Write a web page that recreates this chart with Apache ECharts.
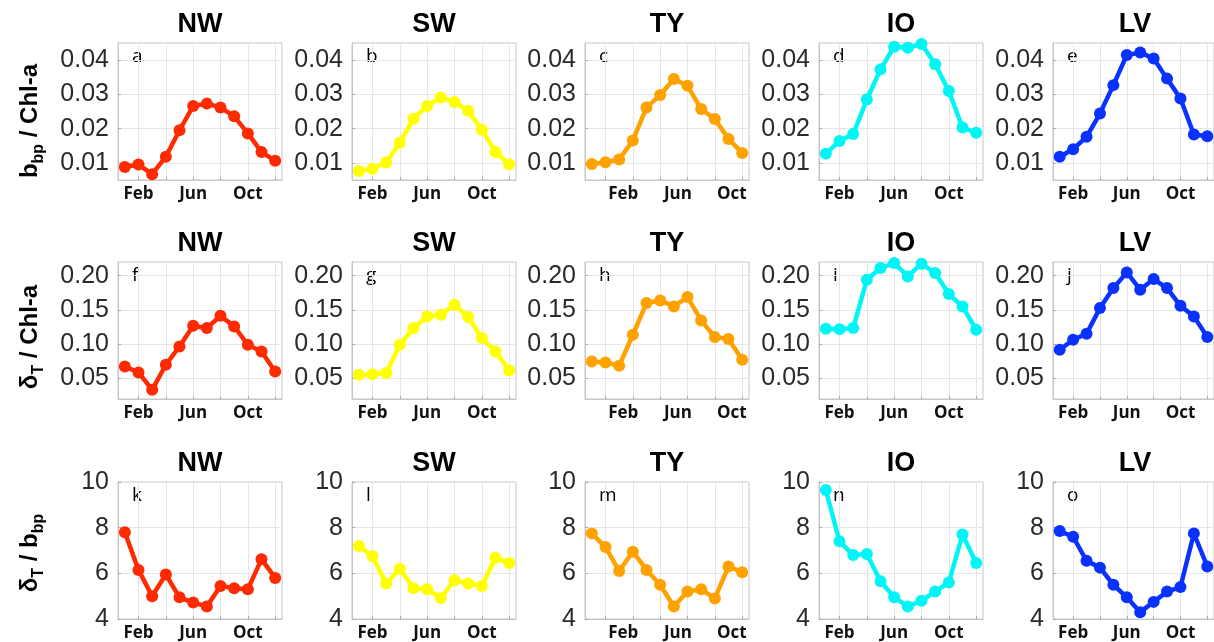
<!DOCTYPE html>
<html>
<head>
<meta charset="utf-8">
<script src="https://cdn.jsdelivr.net/npm/echarts@6/dist/echarts.min.js"></script>
<style>
  html, body { margin: 0; padding: 0; background: #fff; }
  #chart { width: 1214px; height: 642px; }
</style>
</head>
<body>
<div id="chart"></div>
<script>
// Months of the year (x values) and region names
const months = [1, 2, 3, 4, 5, 6, 7, 8, 9, 10, 11, 12];
const regions = ['NW', 'SW', 'TY', 'IO', 'LV'];
const regionColors = ['#ff2a00', '#ffff00', '#ffa200', '#00f5f5', '#0a32ff'];
const panelLetters = ['a', 'b', 'c', 'd', 'e', 'f', 'g', 'h', 'i', 'j', 'k', 'l', 'm', 'n', 'o'];

// x tick labels
const tickNames = ['Feb', 'Jun', 'Oct'];
const tickMonths = [2, 6, 10];
const tickMonthsTY = [3.3, 7.3, 11.25];
const gridMonths = [2, 4, 6, 8, 10, 12];

// y tick labels per row
const ticksRow1 = [0.01, 0.02, 0.03, 0.04];
const ticksRow2 = [0.05, 0.10, 0.15, 0.20];
const ticksRow3 = [4, 6, 8, 10];

// Row 1: b_bp / Chl-a
const bbpChlNW = [0.0088, 0.0095, 0.0067, 0.0118, 0.0195, 0.0266, 0.0273, 0.0262, 0.0236, 0.0186, 0.0132, 0.0106];
const bbpChlSW = [0.0076, 0.0083, 0.0101, 0.0159, 0.0229, 0.0266, 0.0291, 0.0278, 0.0252, 0.0197, 0.0132, 0.0096];
const bbpChlTY = [0.0097, 0.0102, 0.0110, 0.0165, 0.0262, 0.0298, 0.0345, 0.0325, 0.0257, 0.0228, 0.0170, 0.0129];
const bbpChlIO = [0.0127, 0.0164, 0.0184, 0.0285, 0.0373, 0.0439, 0.0436, 0.0447, 0.0388, 0.0310, 0.0203, 0.0188];
const bbpChlLV = [0.0118, 0.0140, 0.0176, 0.0244, 0.0327, 0.0415, 0.0422, 0.0405, 0.0346, 0.0288, 0.0183, 0.0178];

// Row 2: delta_T / Chl-a
const dtChlNW = [0.0675, 0.0588, 0.0334, 0.0700, 0.0967, 0.1270, 0.1235, 0.1415, 0.1260, 0.0992, 0.0894, 0.0602];
const dtChlSW = [0.0554, 0.0563, 0.0578, 0.0992, 0.1235, 0.1406, 0.1430, 0.1576, 0.1396, 0.1089, 0.0894, 0.0617];
const dtChlTY = [0.0748, 0.0734, 0.0685, 0.1138, 0.1600, 0.1639, 0.1552, 0.1688, 0.1347, 0.1104, 0.1075, 0.0773];
const dtChlIO = [0.1225, 0.1220, 0.1235, 0.1941, 0.2112, 0.2185, 0.1990, 0.2175, 0.2039, 0.1732, 0.1552, 0.1211];
const dtChlLV = [0.0919, 0.1065, 0.1152, 0.1527, 0.1819, 0.2048, 0.1795, 0.1951, 0.1819, 0.1561, 0.1406, 0.1104];

// Row 3: delta_T / b_bp
const dtBbpNW = [7.80, 6.15, 5.00, 5.95, 4.95, 4.72, 4.55, 5.45, 5.35, 5.30, 6.62, 5.80];
const dtBbpSW = [7.20, 6.75, 5.55, 6.20, 5.35, 5.30, 4.92, 5.70, 5.55, 5.45, 6.68, 6.45];
const dtBbpTY = [7.75, 7.15, 6.10, 6.95, 6.15, 5.50, 4.55, 5.20, 5.30, 4.90, 6.30, 6.05];
const dtBbpIO = [9.65, 7.40, 6.80, 6.85, 5.65, 4.95, 4.55, 4.80, 5.20, 5.60, 7.70, 6.45];
const dtBbpLV = [7.85, 7.60, 6.55, 6.25, 5.50, 4.95, 4.30, 4.75, 5.20, 5.40, 7.75, 6.30];

const rowData = [
  [bbpChlNW, bbpChlSW, bbpChlTY, bbpChlIO, bbpChlLV],
  [dtChlNW, dtChlSW, dtChlTY, dtChlIO, dtChlLV],
  [dtBbpNW, dtBbpSW, dtBbpTY, dtBbpIO, dtBbpLV]
];

// Panel layout
const colLeft = [118, 352, 585, 819, 1053];
const rowTop = [43, 262, 482];
const boxW = 164, boxH = 137;

const rowAxis = [
  { min: 0.005, max: 0.045, splitNumber: 4, ticks: ticksRow1, digits: 2 },
  { min: 0.02, max: 0.22, splitNumber: 4, ticks: ticksRow2, digits: 2 },
  { min: 4, max: 10, interval: 2, ticks: ticksRow3, digits: 0 }
];

const grid = [], xAxis = [], yAxis = [], series = [], graphic = [];

for (let r = 0; r < 3; r++) {
  for (let c = 0; c < 5; c++) {
    const i = r * 5 + c;
    const ra = rowAxis[r];
    const labelPos = regions[c] === 'TY' ? tickMonthsTY : tickMonths;
    grid.push({
      left: colLeft[c], top: rowTop[r], width: boxW, height: boxH,
      show: true, borderColor: '#c6c6c6', borderWidth: 1, backgroundColor: 'transparent'
    });
    xAxis.push({
      gridIndex: i, type: 'value', min: 0.5, max: 12.5, splitNumber: 6,
      axisLine: { show: true, lineStyle: { color: '#c6c6c6', width: 1 } },
      axisTick: { show: true, inside: true, length: 3, customValues: gridMonths, lineStyle: { color: '#aaa' } },
      axisLabel: {
        customValues: labelPos,
        formatter: v => tickNames[labelPos.indexOf(v)] || '',
        margin: 6, color: '#111', fontFamily: 'Open Sans', fontWeight: 'bold', fontSize: 17
      },
      splitLine: { show: true, lineStyle: { color: '#e6e6e6', width: 1 } }
    });
    const ya = {
      gridIndex: i, type: 'value', min: ra.min, max: ra.max,
      axisLine: { show: true, lineStyle: { color: '#c6c6c6', width: 1 } },
      axisTick: { show: true, inside: true, length: 3, customValues: ra.ticks, lineStyle: { color: '#aaa' } },
      axisLabel: {
        customValues: ra.ticks,
        formatter: v => v.toFixed(ra.digits),
        margin: 9, color: '#2a2a2a', fontFamily: 'Liberation Sans', fontSize: 25
      },
      splitLine: { show: true, lineStyle: { color: '#e6e6e6', width: 1 } }
    };
    if (ra.interval) ya.interval = ra.interval; else ya.splitNumber = ra.splitNumber;
    yAxis.push(ya);
    const vals = rowData[r][c];
    series.push({
      type: 'line', xAxisIndex: i, yAxisIndex: i, clip: false,
      data: months.map((m, k) => [m, vals[k]]),
      symbol: 'circle', symbolSize: 12,
      lineStyle: { color: regionColors[c], width: 4.5 },
      itemStyle: { color: regionColors[c] },
      animation: false
    });
    // panel title
    graphic.push({
      type: 'text', x: colLeft[c] + boxW / 2, y: rowTop[r] - 18, silent: true,
      style: {
        text: regions[c], fill: '#000', font: 'bold 27px "Liberation Sans"',
        align: 'center', verticalAlign: 'middle', textAlign: 'center', textVerticalAlign: 'middle'
      }
    });
    // panel letter
    graphic.push({
      type: 'text', x: colLeft[c] + 14, y: rowTop[r] + 14, silent: true,
      style: {
        text: panelLetters[i], fill: '#000', font: '19px "Open Sans"',
        align: 'left', verticalAlign: 'middle', textAlign: 'left', textVerticalAlign: 'middle'
      }
    });
  }
}

// Row labels (rotated, with subscripts)
const rowLabels = [
  '{m|b}{s|bp}{m| / Chl-a}',
  '{m|δ}{s|T}{m| / Chl-a}',
  '{m|δ}{s|T}{m| / b}{s|bp}'
];
const rowLabelY = [121, 337, 553];
const richStyle = {
  m: { font: 'bold 24px "Liberation Sans"', fill: '#000', lineHeight: 34, verticalAlign: 'middle' },
  s: { font: 'bold 16px "Liberation Sans"', fill: '#000', lineHeight: 16, verticalAlign: 'bottom' }
};
for (let r = 0; r < 3; r++) {
  graphic.push({
    type: 'text', x: 30, y: rowLabelY[r], rotation: Math.PI / 2, silent: true,
    style: {
      text: rowLabels[r], rich: richStyle,
      align: 'center', verticalAlign: 'middle', textAlign: 'center', textVerticalAlign: 'middle'
    }
  });
}

const chart = echarts.init(document.getElementById('chart'), null, { renderer: 'canvas' });
chart.setOption({
  animation: false,
  backgroundColor: '#fff',
  grid, xAxis, yAxis, series, graphic
});
</script>
</body>
</html>
